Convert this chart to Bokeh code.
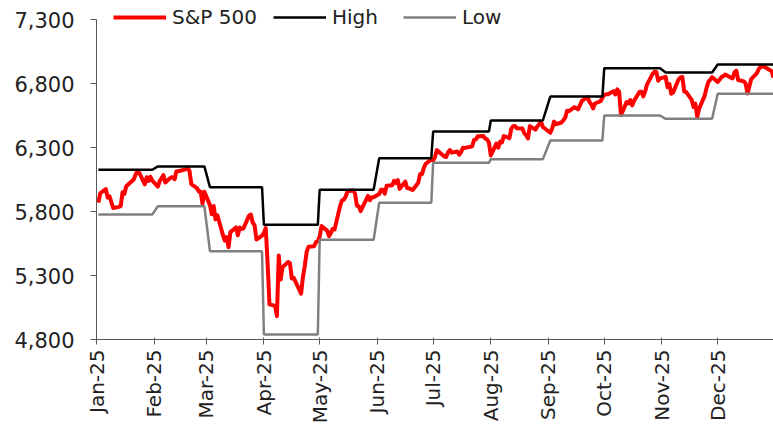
import pandas as pd
from bokeh.plotting import figure
from bokeh.models import (Range1d, FixedTicker, NumeralTickFormatter, DatetimeTickFormatter,
                          Legend, LegendItem, ColumnDataSource)
from bokeh.embed import file_html
from bokeh.resources import INLINE

# ---------------- data ----------------
HOLIDAYS = ["2025-01-01", "2025-01-09", "2025-01-20", "2025-02-17", "2025-04-18", "2025-05-26",
            "2025-06-19", "2025-07-04", "2025-09-01", "2025-11-27", "2025-12-25"]

SP500 = [
    # Jan
    5868.55, 5942.47, 5975.38, 5909.03, 5918.25, 5827.04, 5836.22, 5842.91, 5949.91, 5937.34,
    5996.66, 6049.24, 6086.37, 6118.71, 6101.24, 6012.28, 6067.70, 6039.31, 6071.17, 6040.53,
    # Feb
    5994.57, 6037.88, 6061.48, 6083.57, 6025.99, 6066.44, 6068.50, 6051.97, 6115.07, 6114.63,
    6129.58, 6144.15, 6117.52, 6013.13, 5983.25, 5955.25, 5956.06, 5861.57, 5954.50,
    # Mar
    5849.72, 5778.15, 5842.63, 5738.52, 5770.20, 5614.56, 5572.07, 5599.30, 5521.52, 5638.94,
    5675.12, 5614.66, 5675.29, 5662.89, 5667.56, 5767.57, 5776.65, 5712.20, 5693.31, 5580.94, 5611.85,
    # Apr
    5633.07, 5670.97, 5396.52, 5074.08, 5062.25, 4982.77, 5456.90, 5268.05, 5363.36, 5405.97,
    5396.63, 5275.70, 5282.70, 5158.20, 5287.76, 5375.86, 5484.77, 5525.21, 5528.75, 5560.83, 5569.06,
    # May
    5604.14, 5686.67, 5650.38, 5606.91, 5631.28, 5663.94, 5659.91, 5844.19, 5886.55, 5892.58,
    5916.93, 5958.38, 5963.60, 5940.46, 5844.61, 5842.01, 5802.82, 5921.54, 5888.55, 5912.17, 5911.69,
    # Jun
    5935.94, 5970.37, 5970.81, 5939.30, 6000.36, 6005.88, 6038.81, 6022.24, 6045.26, 5976.97,
    6033.11, 5982.72, 5980.87, 5967.84, 6025.17, 6092.18, 6092.16, 6141.02, 6173.07, 6204.95,
    # Jul
    6198.01, 6227.42, 6279.35, 6229.98, 6225.52, 6263.26, 6280.46, 6259.75, 6268.56, 6243.76,
    6263.70, 6297.36, 6296.79, 6305.60, 6309.62, 6358.91, 6363.35, 6388.64, 6389.77, 6370.86,
    6362.90, 6339.39,
    # Aug
    6238.01, 6329.94, 6299.19, 6345.06, 6340.00, 6389.45, 6373.45, 6445.76, 6466.58, 6468.54,
    6449.80, 6449.15, 6411.37, 6395.78, 6370.17, 6466.91, 6439.32, 6465.94, 6481.40, 6501.86, 6460.26,
    # Sep
    6415.54, 6448.26, 6502.08, 6481.50, 6495.15, 6512.61, 6532.04, 6587.47, 6584.29, 6615.28,
    6606.76, 6600.35, 6631.96, 6664.36, 6693.75, 6656.92, 6637.97, 6604.72, 6643.70, 6661.21, 6688.46,
    # Oct
    6711.20, 6715.35, 6715.79, 6740.28, 6714.59, 6753.72, 6735.11, 6552.51, 6654.72, 6644.31,
    6671.06, 6629.07, 6664.01, 6735.13, 6735.35, 6699.40, 6738.44, 6791.69, 6875.16, 6890.89,
    6890.59, 6822.34, 6840.20,
    # Nov
    6851.97, 6771.55, 6796.29, 6720.32, 6728.80, 6832.43, 6846.61, 6850.92, 6737.49, 6734.11,
    6672.41, 6617.32, 6642.16, 6538.76, 6602.99, 6705.12, 6765.88, 6812.61, 6849.09,
    # Dec
    6812.63, 6829.37, 6849.72, 6857.12, 6870.40, 6846.51, 6840.51, 6886.68, 6901.00, 6827.41,
    6816.51, 6800.26, 6721.43, 6774.76, 6834.50, 6878.49, 6909.79, 6932.05, 6929.94, 6905.74,
    6896.24, 6845.50,
]

# monthly band values (Jan..Dec)
HIGH = [6126, 6152, 5990, 5696, 5970, 6216, 6425, 6511, 6698, 6920, 6886, 6948]
LOW = [5777, 5841, 5490, 4839, 5579, 5868, 6180, 6209, 6355, 6550, 6524, 6720]

MONTH_TICKS = ["2025-01-01", "2025-02-01", "2025-03-01", "2025-04-01", "2025-05-01", "2025-06-01",
               "2025-07-01", "2025-08-01", "2025-09-01", "2025-10-01", "2025-11-01", "2025-12-01"]
MONTH_LABELS = ["Jan-25", "Feb-25", "Mar-25", "Apr-25", "May-25", "Jun-25",
                "Jul-25", "Aug-25", "Sep-25", "Oct-25", "Nov-25", "Dec-25"]
Y_TICKS = [4800, 5300, 5800, 6300, 6800, 7300]
Y_MIN, Y_MAX = 4800, 7300

# ---------------- build ----------------
dates = pd.bdate_range("2025-01-01", "2025-12-31")
dates = dates[~dates.isin(pd.to_datetime(HOLIDAYS))]
assert len(dates) == len(SP500), (len(dates), len(SP500))

src = ColumnDataSource(dict(
    date=dates,
    sp=SP500,
    high=[HIGH[d.month - 1] for d in dates],
    low=[LOW[d.month - 1] for d in dates],
))

FONT = "DejaVu Sans"

# layout: plot frame spans the full top so the legend (above the 7,300 level) is not clipped
W, H = 773, 427
BORDER_L, BORDER_B = 96, 88
AXIS_TOP_PX = 19                       # pixel row where the 7,300 level sits
frame_h = H - BORDER_B
y_end = Y_MIN + (Y_MAX - Y_MIN) * frame_h / (frame_h - AXIS_TOP_PX)

p = figure(width=W, height=H, x_axis_type="datetime", output_backend="svg",
           toolbar_location=None,
           x_range=Range1d(pd.Timestamp("2025-01-01"), pd.Timestamp("2025-12-31")),
           y_range=Range1d(Y_MIN, y_end),
           min_border_left=BORDER_L, min_border_right=0, min_border_top=0, min_border_bottom=BORDER_B)
p.outline_line_color = None
p.xgrid.visible = False
p.ygrid.visible = False
p.background_fill_color = "white"

r_sp = p.line("date", "sp", source=src, line_color="#ff0000", line_width=4, line_join="round")
r_hi = p.line("date", "high", source=src, line_color="#000000", line_width=2.5)
r_lo = p.line("date", "low", source=src, line_color="#808080", line_width=2.5)

# axes
tick_ms = [pd.Timestamp(t).value / 1e6 for t in MONTH_TICKS]
xa = p.xaxis[0]
xa.ticker = FixedTicker(ticks=tick_ms)
fmt = "%b-%y"
xa.formatter = DatetimeTickFormatter(days=fmt, months=fmt, years=fmt, hours=fmt, minutes=fmt)
xa.major_label_overrides = {t: lab for t, lab in zip(tick_ms, MONTH_LABELS)}
xa.major_label_orientation = 3.14159265 / 2
xa.major_label_text_font = FONT
xa.major_label_text_font_size = "20px"
xa.major_label_text_color = "#222222"
xa.major_label_standoff = 5
xa.major_tick_in = 2
xa.major_tick_out = 5
xa.minor_tick_line_color = None
xa.axis_line_color = "#595959"
xa.major_tick_line_color = "#595959"

ya = p.yaxis[0]
ya.ticker = FixedTicker(ticks=Y_TICKS)
ya.bounds = (Y_MIN, Y_MAX)
ya.formatter = NumeralTickFormatter(format="0,0")
ya.major_label_text_font = FONT
ya.major_label_text_font_size = "21px"
ya.major_label_text_color = "#222222"
ya.major_label_standoff = 16
ya.major_tick_in = 0
ya.major_tick_out = 6
ya.minor_tick_line_color = None
ya.axis_line_color = "#595959"
ya.major_tick_line_color = "#595959"

# legends (one per item, positioned in screen units relative to the frame)
for rend, lab, xpos in [(r_sp, "S&P 500", 17), (r_hi, "High", 177), (r_lo, "Low", 307)]:
    leg = Legend(items=[LegendItem(label=lab, renderers=[rend])], location=(xpos, frame_h - 29),
                 orientation="horizontal", glyph_width=53, glyph_height=20, label_standoff=6,
                 padding=0, margin=0, spacing=0, border_line_alpha=0, background_fill_alpha=0,
                 label_text_font=FONT, label_text_font_size="20px", label_text_color="#222222")
    p.add_layout(leg)

open("out.html", "w").write(file_html(p, INLINE))
